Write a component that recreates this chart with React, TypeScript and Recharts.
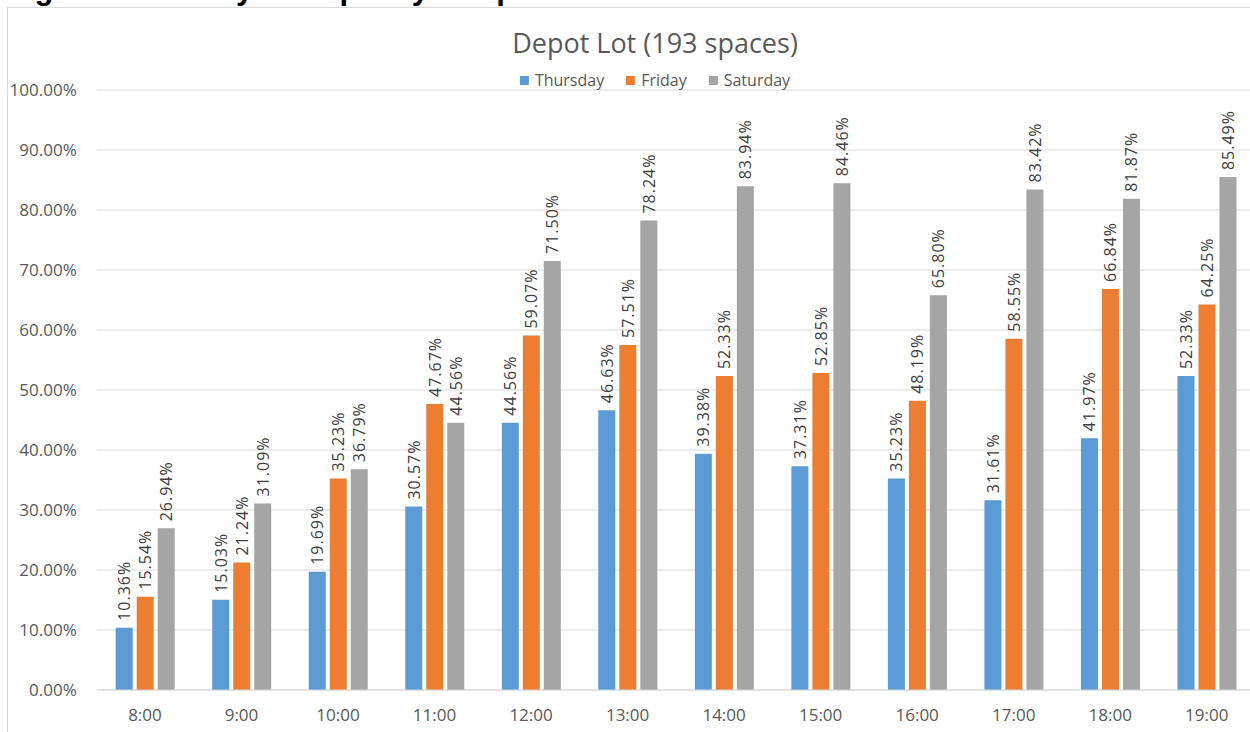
import React from "react";
import { BarChart, Bar, XAxis, YAxis, CartesianGrid, LabelList } from "recharts";

const hours = ["8:00", "9:00", "10:00", "11:00", "12:00", "13:00", "14:00", "15:00", "16:00", "17:00", "18:00", "19:00"];
const thursday = [10.36, 15.03, 19.69, 30.57, 44.56, 46.63, 39.38, 37.31, 35.23, 31.61, 41.97, 52.33];
const friday = [15.54, 21.24, 35.23, 47.67, 59.07, 57.51, 52.33, 52.85, 48.19, 58.55, 66.84, 64.25];
const saturday = [26.94, 31.09, 36.79, 44.56, 71.5, 78.24, 83.94, 84.46, 65.8, 83.42, 81.87, 85.49];
const yTicks = [0, 10, 20, 30, 40, 50, 60, 70, 80, 90, 100];

const series = [
  { key: "thursday", name: "Thursday", color: "#5b9bd5" },
  { key: "friday", name: "Friday", color: "#ed7d31" },
  { key: "saturday", name: "Saturday", color: "#a5a5a5" },
];

const data = hours.map((hour, i) => ({
  hour,
  thursday: thursday[i],
  friday: friday[i],
  saturday: saturday[i],
}));

const FONT = "'Open Sans', sans-serif";
const pct = (v: number) => `${v.toFixed(2)}%`;

// vertical value label sitting just above the bar
const renderValue = (props: any) => {
  const { x, y, width, value } = props;
  const cx = Number(x) + Number(width) / 2;
  const ty = Number(y) - 7;
  return (
    <text
      x={cx}
      y={ty}
      transform={`rotate(-90, ${cx}, ${ty})`}
      textAnchor="start"
      dominantBaseline="central"
      fontFamily={FONT}
      fontSize={16}
      letterSpacing={1}
      fill="#404040"
    >
      {pct(Number(value))}
    </text>
  );
};

const App = () => {
  return (
    <div
      style={{
        position: "fixed",
        top: 0,
        left: 0,
        width: 1250,
        height: 732,
        overflow: "hidden",
        background: "#fff",
      }}
    >
      <div
        style={{
          position: "absolute",
          left: 7,
          top: 7,
          width: 1300,
          height: 760,
          borderLeft: "1px solid #d9d9d9",
          borderTop: "1px solid #d9d9d9",
        }}
      >
        <BarChart
          width={1300}
          height={760}
          data={data}
          margin={{ top: 82, right: 53, bottom: 38, left: 0 }}
          barSize={17}
          barGap={4}
        >
          <CartesianGrid vertical={false} stroke="#d9d9d9" />
          <XAxis
            dataKey="hour"
            height={40}
            axisLine={{ stroke: "#d9d9d9" }}
            tickLine={false}
            tickSize={0}
            tickMargin={19}
            tick={{ fill: "#595959", fontSize: 17, fontFamily: FONT }}
          />
          <YAxis
            width={88.7}
            domain={[0, 100]}
            ticks={yTicks}
            tickFormatter={pct}
            axisLine={false}
            tickLine={false}
            tickSize={0}
            tickMargin={20}
            tick={{ fill: "#595959", fontSize: 17, fontFamily: FONT }}
          />
          {series.map((s) => (
            <Bar key={s.key} dataKey={s.key} name={s.name} fill={s.color} isAnimationActive={false}>
              <LabelList dataKey={s.key} content={renderValue} />
            </Bar>
          ))}
        </BarChart>
      </div>

      <div
        style={{
          position: "absolute",
          left: 7,
          top: -27,
          fontFamily: "'Liberation Sans', Arial, sans-serif",
          fontWeight: "bold",
          fontSize: 31,
          lineHeight: "31px",
          color: "#000",
          whiteSpace: "nowrap",
        }}
      >
        Figure 6 - Hourly Occupancy - Depot Lot
      </div>

      <div
        style={{
          position: "absolute",
          left: 655,
          top: 29,
          transform: "translateX(-50%)",
          fontFamily: FONT,
          fontSize: 27,
          lineHeight: "27px",
          color: "#595959",
          whiteSpace: "nowrap",
        }}
      >
        Depot Lot (193 spaces)
      </div>

      <div
        style={{
          position: "absolute",
          left: 655,
          top: 72,
          transform: "translateX(-50%)",
          display: "flex",
          alignItems: "center",
          gap: 22,
          fontFamily: FONT,
          fontSize: 16,
          lineHeight: "16px",
          color: "#595959",
          whiteSpace: "nowrap",
        }}
      >
        {series.map((s) => (
          <div key={s.key} style={{ display: "flex", alignItems: "center" }}>
            <span style={{ display: "inline-block", width: 9, height: 9, background: s.color, marginRight: 6 }} />
            {s.name}
          </div>
        ))}
      </div>
    </div>
  );
};

export default App;
